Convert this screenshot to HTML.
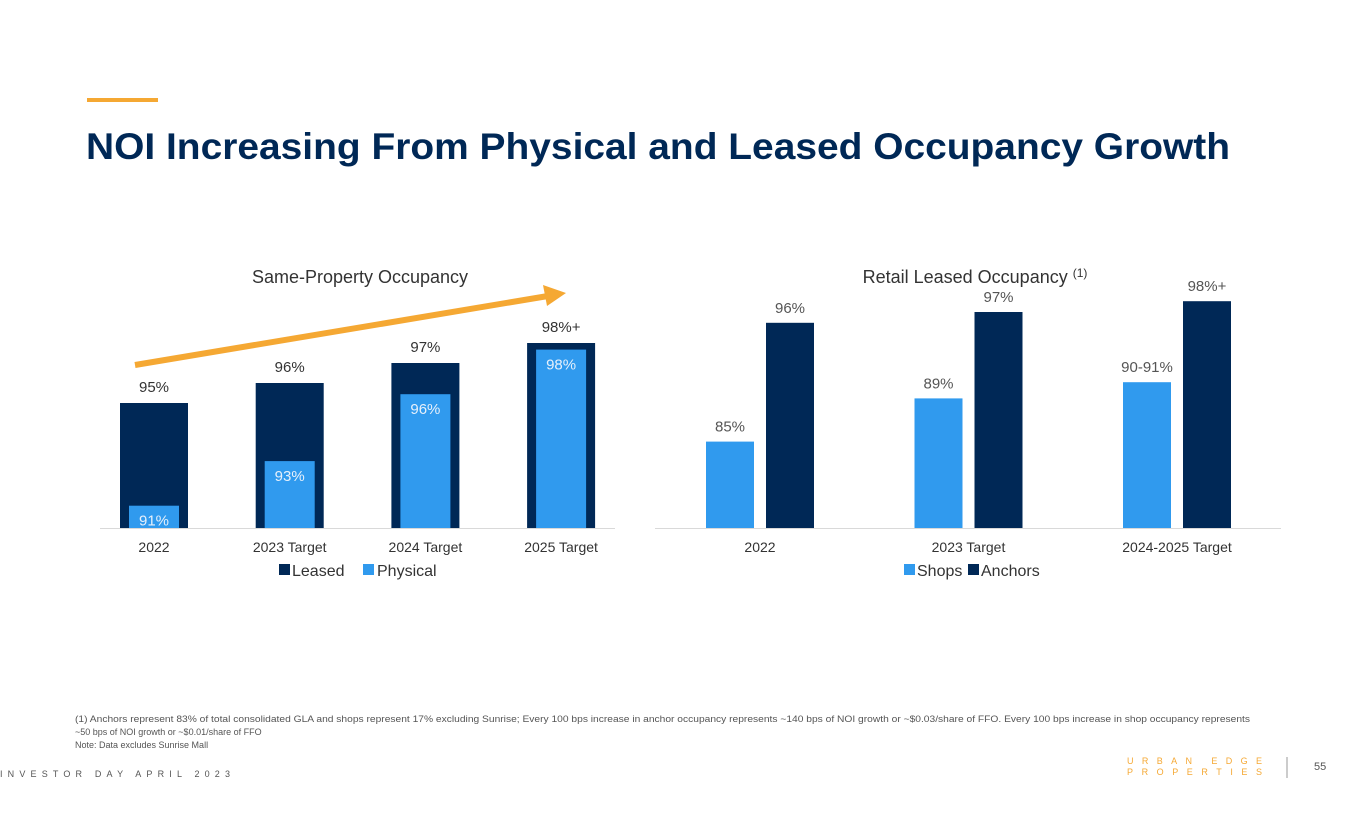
<!DOCTYPE html>
<html><head><meta charset="utf-8"><style>
body{margin:0;width:1365px;height:829px;background:#fff;font-family:"Liberation Sans",sans-serif;overflow:hidden;position:relative}
svg{position:absolute;left:0;top:0}
</style></head><body>
<svg id="s" width="1365" height="829">
<rect x="87" y="98" width="71" height="4" fill="#F5A833"/>
<text x="86" y="159" font-size="37" font-weight="bold" fill="#002856" textLength="1144" lengthAdjust="spacingAndGlyphs">NOI Increasing From Physical and Leased Occupancy Growth</text>
<text x="360" y="283" font-size="18" fill="#333" text-anchor="middle">Same-Property Occupancy</text>
<text x="975" y="283" font-size="18" fill="#333" text-anchor="middle">Retail Leased Occupancy <tspan font-size="12" dy="-6">(1)</tspan></text>
<line x1="100" y1="528.5" x2="615" y2="528.5" stroke="#d9d9d9"/>
<line x1="655" y1="528.5" x2="1281" y2="528.5" stroke="#d9d9d9"/>
<g id="L"></g><g id="R"></g>
<line x1="135" y1="365" x2="548" y2="296" stroke="#F5A833" stroke-width="6"/>
<polygon points="566,293 543,285 547,306" fill="#F5A833"/>
<rect x="279" y="564" width="11" height="11" fill="#002856"/>
<text x="292" y="576" font-size="16" fill="#333">Leased</text>
<rect x="363" y="564" width="11" height="11" fill="#309AEE"/>
<text x="377" y="576" font-size="16" fill="#333">Physical</text>
<rect x="904" y="564" width="11" height="11" fill="#309AEE"/>
<text x="917" y="576" font-size="16" fill="#333">Shops</text>
<rect x="968" y="564" width="11" height="11" fill="#002856"/>
<text x="981" y="576" font-size="16" fill="#333">Anchors</text>
<g font-size="9" fill="#555">
<text x="75" y="722" textLength="1175" lengthAdjust="spacingAndGlyphs">(1) Anchors represent 83% of total consolidated GLA and shops represent 17% excluding Sunrise; Every 100 bps increase in anchor occupancy represents ~140 bps of NOI growth or ~$0.03/share of FFO. Every 100 bps increase in shop occupancy represents</text>
<text x="75" y="735">~50 bps of NOI growth or ~$0.01/share of FFO</text>
<text x="75" y="748">Note: Data excludes Sunrise Mall</text>
</g>
<text x="0" y="777" font-size="9" fill="#555" textLength="230" lengthAdjust="spacing">INVESTOR DAY APRIL 2023</text>
<text x="1127" y="764" font-size="9" fill="#F5A833" textLength="135" lengthAdjust="spacing">URBAN EDGE</text>
<text x="1127" y="775" font-size="9" fill="#F5A833" textLength="135" lengthAdjust="spacing">PROPERTIES</text>
<line x1="1287" y1="757" x2="1287" y2="778" stroke="#999"/>
<text x="1314" y="770" font-size="11" fill="#555">55</text>
</svg>
<script>
const leftCats=["2022","2023 Target","2024 Target","2025 Target"];
const leased=[95,96,97,98];
const leasedLabels=["95%","96%","97%","98%+"];
const physical=[91,93,96,98];
const physicalLabels=["91%","93%","96%","98%"];
const rightCats=["2022","2023 Target","2024-2025 Target"];
const shops=[85,89,90.5];
const shopsLabels=["85%","89%","90-91%"];
const anchors=[96,97,98];
const anchorsLabels=["96%","97%","98%+"];

const NS="http://www.w3.org/2000/svg",base=528;
function mk(p,t,a,txt){const e=document.createElementNS(NS,t);for(const k in a)e.setAttribute(k,a[k]);if(txt!=null)e.textContent=txt;p.appendChild(e);return e;}
const yLeased=v=>base-(v-88.75)*20;
const yPhys=v=>base-(v-90)*22.3;
const yRight=v=>base-(v-77)*10.8;
const xL=i=>154+i*135.7;
const xR=i=>760+i*208.5;
const L=document.getElementById('L'),R=document.getElementById('R');
leftCats.forEach((c,i)=>{
  const cx=xL(i);
  let y=yLeased(leased[i]);
  let r=mk(L,'rect',{x:cx-34,y:y,width:68,height:base-y,fill:'#002856'});
  
  
  let t=mk(L,'text',{x:cx,y:y-11,'font-size':15,fill:'#333','text-anchor':'middle'},leasedLabels[i]);
  
  
  let yp=yPhys(physical[i]);
  let p=mk(L,'rect',{x:cx-25,y:yp,width:50,height:base-yp,fill:'#309AEE'});
  
  
  let pt=mk(L,'text',{x:cx,y:yp+20,'font-size':15,fill:'#e6f0fb','text-anchor':'middle'},physicalLabels[i]);
  
  
  let ct=mk(L,'text',{x:cx,y:552,'font-size':14,fill:'#333','text-anchor':'middle'},c);
  
  
});
rightCats.forEach((c,i)=>{
  const cx=xR(i);
  let ys=yRight(shops[i]);
  let s=mk(R,'rect',{x:cx-54,y:ys,width:48,height:base-ys,fill:'#309AEE'});
  
  
  let st=mk(R,'text',{x:cx-30,y:ys-10,'font-size':15,fill:'#555','text-anchor':'middle'},shopsLabels[i]);
  
  
  let ya=yRight(anchors[i]);
  let a=mk(R,'rect',{x:cx+6,y:ya,width:48,height:base-ya,fill:'#002856'});
  
  
  let at=mk(R,'text',{x:cx+30,y:ya-10,'font-size':15,fill:'#555','text-anchor':'middle'},anchorsLabels[i]);
  
  
  let ct=mk(R,'text',{x:cx,y:552,'font-size':14,fill:'#333','text-anchor':'middle'},c);
  
  
});
</script>
</body></html>
